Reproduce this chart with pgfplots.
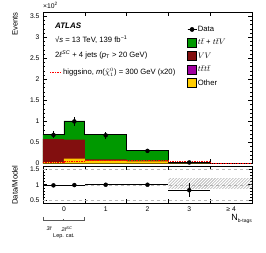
\documentclass[border=0pt]{standalone}
\usepackage{pgfplots}
\pgfplotsset{compat=1.18}
\usepackage{fontspec}
\setmainfont{Liberation Sans}
\usetikzlibrary{patterns}
\definecolor{atlgreen}{RGB}{0,153,0}
\definecolor{atlred}{RGB}{130,15,15}
\definecolor{atlpurple}{RGB}{160,0,160}
\definecolor{atlyellow}{RGB}{255,204,0}
\pgfplotsset{
  boxlegend/.style={legend image code/.code={\fill[##1] (0bp,-4.5bp) rectangle (9bp,4.5bp);}},
  datalegend/.style={legend image code/.code={\draw[##1] (0bp,0bp) -- (9bp,0bp);
      \draw[##1, mark repeat=2, mark phase=2] plot coordinates {(0bp,0bp) (4.5bp,0bp) (9bp,0bp)};}},
  atlasaxis/.style={scale only axis, width=209bp, xmin=-0.5, xmax=4.5,
    xtick={0.5,1.5,2.5,3.5}, xticklabels={},
    /pgf/number format/assume math mode=true,
    tick label style={font=\fontsize{6.8}{7}\selectfont},
    major tick length=4bp, minor tick length=2bp,
    tick style={black, line width=0.5pt},
    axis line style={line width=0.6pt}},
}
\begin{document}
\begin{tikzpicture}
\useasboundingbox (0,0) rectangle (266bp,253bp);
% ---------------- main panel ----------------
\begin{axis}[atlasaxis, name=main, at={(43bp,89.5bp)}, anchor=south west,
  height=151.5bp, ymin=0, ymax=3.6,
  ytick={0,0.5,1,1.5,2,2.5,3,3.5}, yticklabels={0,0.5,1,1.5,2,2.5,3,3.5},
  minor y tick num=4,
  legend style={at={(0.689,0.915)}, anchor=north west, draw=none, fill=none,
    inner sep=0pt, row sep=4bp, font=\fontsize{7.7}{8}\selectfont,
    nodes={inner sep=1bp, anchor=west}},
  legend cell align=left]
% total stack (tt + ttV on top)
\addplot[const plot, fill=atlgreen, draw=none, forget plot] coordinates
  {(-0.5,0.69) (0,1.01) (0.5,0.68) (1.5,0.32) (2.5,0.03) (3.5,0.003) (4.5,0.003)} \closedcycle;
% VV + tttt + Other
\addplot[const plot, fill=atlred, draw=none, forget plot] coordinates
  {(-0.5,0.58) (0,0.57) (0.5,0.10) (1.5,0.06) (2.5,0.01) (3.5,0) (4.5,0)} \closedcycle;
% Other
\addplot[const plot, fill=atlyellow, draw=none, forget plot] coordinates
  {(-0.5,0.03) (0,0.115) (0.5,0.07) (1.5,0.05) (2.5,0.005) (3.5,0) (4.5,0)} \closedcycle;
% total outline
\addplot[const plot, black, line width=0.8pt, forget plot] coordinates
  {(-0.5,0.69) (0,1.01) (0.5,0.68) (1.5,0.32) (2.5,0.03) (3.5,0.003) (4.5,0.003)};
% higgsino signal (x20)
\addplot[const plot, red, densely dotted, line width=0.7pt, forget plot] coordinates
  {(-0.5,0.02) (0,0.05) (0.5,0.07) (1.5,0.07) (2.5,0.04) (3.5,0.01) (4.5,0.01)};
% data
\addplot[only marks, mark=*, mark size=2bp, black, forget plot,
  error bars/.cd, y dir=both, y explicit, error mark=none,
  error bar style={line width=0.7pt}] coordinates
  {(-0.25,0.68) +- (0,0.082) (0.25,1.00) +- (0,0.10) (1,0.67) +- (0,0.082)
   (2,0.30) +- (0,0.055) (3,0.025) +- (0,0.016)};
\addlegendimage{datalegend, black, line width=0.7pt, mark=*, mark size=2bp}
\addlegendentry{Data}
\addlegendimage{boxlegend, fill=atlgreen}
\addlegendentry{$t\bar{t}$ + $t\bar{t}V$}
\addlegendimage{boxlegend, fill=atlred}
\addlegendentry{$VV$}
\addlegendimage{boxlegend, fill=atlpurple}
\addlegendentry{$t\bar{t}t\bar{t}$}
\addlegendimage{boxlegend, fill=atlyellow}
\addlegendentry{Other}
\end{axis}
% ---------------- ratio panel ----------------
\begin{axis}[atlasaxis, at={(43bp,50bp)}, anchor=south west,
  height=36.5bp, ymin=0.4, ymax=1.6,
  ytick={0.5,1,1.5}, yticklabels={0.5,1,1.5}, minor y tick num=4,
  extra x ticks={0,1,2,3,4}, extra x tick labels={0,1,2,3,{≥ 4}},
  extra x tick style={major tick length=0pt}]
\addplot[gray!55, dashed, line width=0.4pt, forget plot] coordinates {(-0.5,0.5) (4.5,0.5)};
\addplot[gray!55, dashed, line width=0.4pt, forget plot] coordinates {(-0.5,1.0) (4.5,1.0)};
\addplot[gray!55, dashed, line width=0.4pt, forget plot] coordinates {(-0.5,1.5) (4.5,1.5)};
\addplot[draw=none, pattern=north east lines, pattern color=gray!80, forget plot] coordinates
  {(2.5,0.88) (2.5,1.2) (4.5,1.2) (4.5,0.88)} -- cycle;
\addplot[only marks, mark=*, mark size=2bp, black, forget plot,
  error bars/.cd, x dir=both, x explicit, y dir=both, y explicit, error mark=none,
  error bar style={line width=0.7pt}] coordinates
  {(-0.25,0.98) +- (0.25,0) (0.25,0.99) +- (0.25,0) (1,1.0) +- (0.5,0)
   (2,1.0) +- (0.5,0) (3,0.82) +- (0.5,0.23)};
\end{axis}
% ---------------- text ----------------
\begin{scope}[x=1bp, y=-1bp, shift={(0,253bp)}, every node/.style={inner sep=0pt, font=\fontsize{7.7}{8}\selectfont}]
\node[anchor=west] at (43,5) {\fontsize{6.8}{7}\selectfont ×10\textsuperscript{2}};
\node[rotate=90, anchor=east] at (15,12) {Events};
\node[rotate=90] at (15,185) {Data/Model};
\node[anchor=west, font=\fontsize{8}{9}\selectfont\bfseries\itshape] at (55,26) {ATLAS};
\node[anchor=west] at (55,40) {√\textit{s} = 13 TeV, 139 fb\textsuperscript{−1}};
\node[anchor=west] at (55,55) {2\textit{ℓ}\textsuperscript{\textit{SC}} + 4 jets (\textit{p}\textsubscript{T} > 20 GeV)};
\draw[red, densely dotted, line width=0.7pt] (50,72) -- (61,72);
\node[anchor=west] at (63,72) {higgsino, \textit{m}($\tilde{\chi}^0_1$) = 300 GeV (x20)};
\node[anchor=north east] at (252,214) {\fontsize{9}{10}\selectfont N\raisebox{-2bp}{\fontsize{5}{6}\selectfont b-tags}};
\draw[black!65, line width=0.5pt] (43,217) -- (43,220) -- (84,220) -- (84,217);
\draw[black!65, line width=0.5pt] (63.5,219) -- (63.5,220);
\node[font=\fontsize{5.5}{6}\selectfont\itshape] at (49,229) {3ℓ};
\node[font=\fontsize{5.5}{6}\selectfont\itshape] at (67,229) {2ℓ\textsuperscript{SC}};
\node[font=\fontsize{5.5}{6}\selectfont] at (64,236) {Lep. cat.};
\end{scope}
\end{tikzpicture}
\end{document}
